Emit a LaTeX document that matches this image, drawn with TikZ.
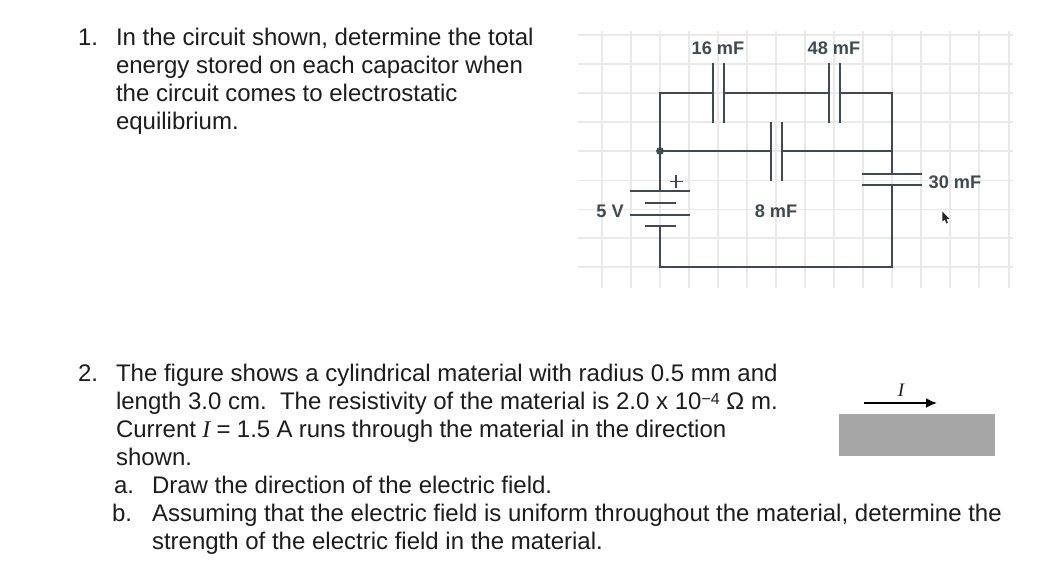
\documentclass[tikz,border=0pt]{standalone}
\usepackage{fontspec}
\setmainfont{Liberation Sans}
\newfontfamily\serifit{Liberation Serif}
\usetikzlibrary{arrows.meta}
\definecolor{wirec}{HTML}{3F4A52}
\definecolor{gridc}{HTML}{E9E9E9}
\definecolor{blockc}{HTML}{A6A6A6}
\definecolor{textc}{HTML}{1C1C1C}
\tikzset{
  body/.style={anchor=base west,inner sep=0pt,outer sep=0pt,text=textc,font=\fontsize{24}{28}\selectfont},
  lbl/.style={inner sep=0pt,outer sep=0pt,text=wirec,font=\fontsize{18.2}{20}\selectfont\bfseries},
  wire/.style={draw=wirec,line width=2.6pt},
  plate/.style={draw=wirec,line width=2.2pt},
  gridline/.style={draw=gridc,line width=1.2pt},
}
\begin{document}
\begin{tikzpicture}[x=1pt,y=-1pt]
\useasboundingbox (0,0) rectangle (1054,582);
% grid
\foreach \gx in {602,631,660,689,718,747,776,805,834,863,892,921,950,979,1009}
  \draw[gridline] (\gx,31) -- (\gx,288);
\foreach \gy in {35,64,93,122,151,180.5,209.5,238,267}
  \draw[gridline] (578,\gy) -- (1013,\gy);
% coordinates
\coordinate (tl) at (660,93);
\coordinate (tr) at (892,93);
\coordinate (ml) at (660,151);
\coordinate (mr) at (892,151);
\coordinate (bl) at (660,267);
\coordinate (br) at (892,267);
\coordinate (c1a) at (712.7,93);
\coordinate (c1b) at (723.7,93);
\coordinate (c2a) at (828.7,93);
\coordinate (c2b) at (839.7,93);
\coordinate (c3a) at (770.7,151);
\coordinate (c3b) at (781.7,151);
\coordinate (c4a) at (892,174.3);
\coordinate (c4b) at (892,185);
\coordinate (bt) at (660,191.3);
\coordinate (bb) at (660,226.3);
% wires
\draw[wire,line join=miter] (ml) -- (tl) -- (c1a);
\draw[wire] (c1b) -- (c2a);
\draw[wire,line join=miter] (c2b) -- (tr) -- (mr) -- (c4a);
\draw[wire] (ml) -- (c3a);
\draw[wire] (c3b) -- (mr);
\draw[wire] (ml) -- (bt);
\draw[wire,line join=miter] (bb) -- (bl) -- (br) -- (c4b);
% capacitor plates
\draw[plate] (712.7,63) -- (712.7,122.7);
\draw[plate] (723.7,63) -- (723.7,122.7);
\draw[plate] (828.7,63) -- (828.7,122.7);
\draw[plate] (839.7,63) -- (839.7,122.7);
\draw[plate] (770.7,122) -- (770.7,181);
\draw[plate] (781.7,122) -- (781.7,181);
\draw[plate] (862,174.3) -- (922,174.3);
\draw[plate] (862,185) -- (922,185);
% battery
\draw[plate] (630,191.3) -- (690,191.3);
\draw[plate] (645,203) -- (675.5,203);
\draw[plate] (630,214.7) -- (690,214.7);
\draw[plate] (645,226.3) -- (675.5,226.3);
\draw[draw=wirec,line width=1.2pt] (669.5,181.5) -- (682.5,181.5) (676,175) -- (676,188);
\fill[wirec] (ml) circle (3.9);
% circuit labels
\node[lbl] (l16) at (718,48) {16 mF};
\node[lbl] (l48) at (834,48) {48 mF};
\node[lbl] (l8) at (776,211.5) {8 mF};
\node[lbl] (l30) at (955,182) {30 mF};
\node[lbl] (l5) at (610,211) {5 V};
% pointer
\fill[black!85] (942.3,211.5) -- (942.3,221.5) -- (944.8,219.5) -- (946.3,223.5) -- (947.8,222.8) -- (946.5,219) -- (949.3,218.8) -- cycle;
% question 1
\node[body] (n1) at (78,45) {1.};
\node[body] (q1a) at (116,45) {In the circuit shown, determine the total};
\node[body] (q1b) at (116,73) {energy stored on each capacitor when};
\node[body] (q1c) at (116,101) {the circuit comes to electrostatic};
\node[body] (q1d) at (116,129) {equilibrium.};
% question 2
\node[body] (n2) at (78,381) {2.};
\node[body] (q2a) at (116,381) {The figure shows a cylindrical material with radius 0.5 mm and};
\node[body] (q2b) at (116,409) {length 3.0 cm.\ \ The resistivity of the material is 2.0 x 10\raisebox{5pt}{\fontsize{16}{18}\selectfont −4} Ω m.};
\node[body] (q2c) at (116,437) {\spaceskip=6.3pt Current {\serifit\itshape I} = 1.5 A runs through the material in the direction};
\node[body] (q2d) at (116,465) {shown.};
\node[body] (na) at (114,493) {a.};
\node[body] (qa) at (152,493) {Draw the direction of the electric field.};
\node[body] (nb) at (112,521) {b.};
\node[body] (qb) at (152,521) {Assuming that the electric field is uniform throughout the material, determine the};
\node[body] (qc) at (152,549) {strength of the electric field in the material.};
% cylinder figure
\node[draw=none,fill=blockc,minimum width=156pt,minimum height=42pt,inner sep=0pt,outer sep=0pt,anchor=north west] (block) at (839,414) {};
\coordinate (ia) at (864,403);
\coordinate (ib) at (937,403);
\draw[line width=2pt,-{Latex[length=11pt,width=10pt]}] (ia) -- (ib);
\node[inner sep=0pt,text=textc,font=\fontsize{19}{20}\selectfont\serifit\itshape] (ilabel) at (901,390) {I};
\end{tikzpicture}
\end{document}
